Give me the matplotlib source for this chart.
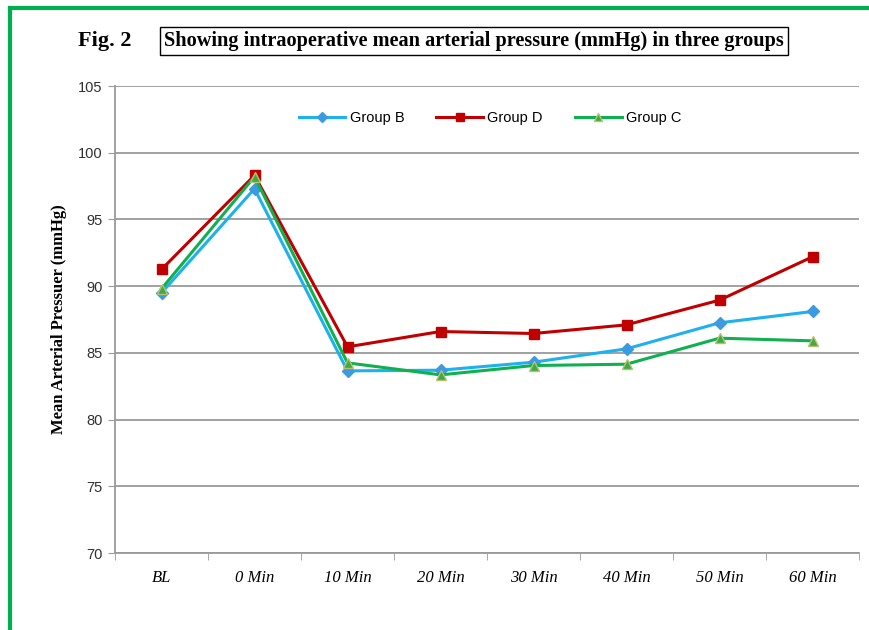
import matplotlib
matplotlib.use("Agg")
import matplotlib.pyplot as plt
from matplotlib.lines import Line2D

# Datos
tiempos = ["BL", "0 Min", "10 Min", "20 Min", "30 Min", "40 Min", "50 Min", "60 Min"]
grupo_b = [89.5, 97.3, 83.65, 83.7, 84.3, 85.3, 87.25, 88.1]
grupo_d = [91.25, 98.3, 85.45, 86.6, 86.45, 87.1, 88.95, 92.2]
grupo_c = [89.8, 98.2, 84.25, 83.35, 84.05, 84.15, 86.1, 85.9]
y_ticks = [70, 75, 80, 85, 90, 95, 100, 105]

fig = plt.figure(figsize=(8.69, 6.30), dpi=100)
ax = fig.add_axes([115 / 869, 1 - 553 / 630, 744 / 869, 467 / 630])

x = list(range(len(tiempos)))
ax.plot(x, grupo_b, color="#1EB1EC", linewidth=2.2, marker="D", markersize=6,
        markerfacecolor="#3C9BE0", markeredgecolor="#3C9BE0", label="Group B", zorder=3)
ax.plot(x, grupo_d, color="#C00000", linewidth=2.2, marker="s", markersize=7,
        markerfacecolor="#C00000", markeredgecolor="#C00000", label="Group D", zorder=3)
ax.plot(x, grupo_c, color="#10B050", linewidth=2.2, marker="^", markersize=7,
        markerfacecolor="#3EAA45", markeredgecolor="#B8C070", label="Group C", zorder=3)

ax.set_xlim(-0.5, len(tiempos) - 0.5)
ax.set_ylim(70, 105)
ax.set_yticks(y_ticks)
ax.set_yticklabels([str(v) for v in y_ticks], fontsize=10.5, family="Liberation Sans", color="#303030")
ax.set_xticks(x)
ax.set_xticklabels(tiempos, fontsize=12, family="Liberation Serif", style="italic")
ax.set_xticks([i - 0.5 for i in range(len(tiempos) + 1)], minor=True)
ax.tick_params(axis="x", which="major", length=0, pad=12)
ax.tick_params(axis="x", which="minor", length=5, color="#9a9a9a", direction="out")
ax.tick_params(axis="y", length=5, color="#9a9a9a", direction="out", pad=4)

ax.grid(True, axis="y", color="#9a9a9a", linewidth=1.3)
ax.set_axisbelow(True)
for lado in ["top", "right"]:
    ax.spines[lado].set_visible(False)
for lado in ["left", "bottom"]:
    ax.spines[lado].set_color("#9a9a9a")
    ax.spines[lado].set_linewidth(1.3)

ax.set_ylabel("Mean Arterial Pressuer (mmHg)", fontsize=12, family="Liberation Serif",
              fontweight="bold", labelpad=8)

fig.legend(loc="center", bbox_to_anchor=(490 / 869, 1 - 118 / 630), ncol=3, frameon=False,
           prop={"family": "Liberation Sans", "size": 10.5}, handlelength=3.2,
           columnspacing=2.2, handletextpad=0.3, markerscale=0.8)

# Títulos
fig.text(78 / 869, 1 - 41 / 630, "Fig. 2", fontsize=16, family="Liberation Serif",
         fontweight="bold", va="center", ha="left")
fig.text(164 / 869, 1 - 41 / 630,
         "Showing intraoperative mean arterial pressure (mmHg) in three groups",
         fontsize=14.6, family="Liberation Serif", fontweight="bold", va="center", ha="left",
         bbox=dict(boxstyle="square,pad=0.2", facecolor="white", edgecolor="black", linewidth=1))

# Borde verde
fig.add_artist(Line2D([10 / 869, 1], [1 - 8 / 630, 1 - 8 / 630], color="#00B050",
                      linewidth=3, transform=fig.transFigure))
fig.add_artist(Line2D([10 / 869, 10 / 869], [0, 1 - 8 / 630], color="#00B050",
                      linewidth=3, transform=fig.transFigure))

fig.savefig("out.png", dpi=100)
plt.close()
